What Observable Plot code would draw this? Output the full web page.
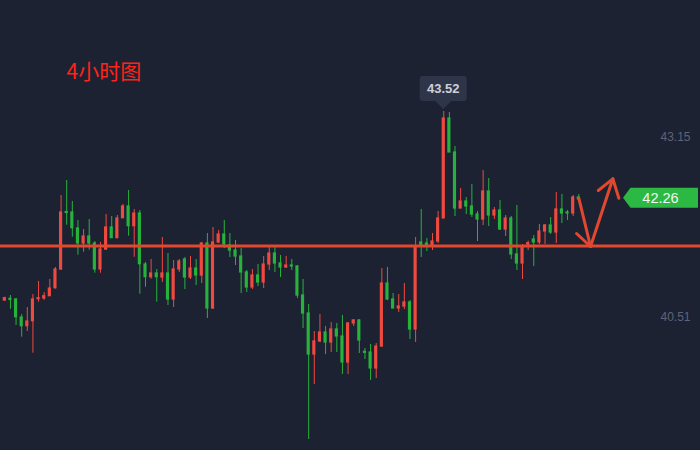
<!DOCTYPE html>
<html><head><meta charset="utf-8">
<script src="https://cdn.jsdelivr.net/npm/d3@7"></script>
<script src="https://cdn.jsdelivr.net/npm/@observablehq/plot@0.6"></script>
<style>
html,body{margin:0;padding:0;background:#1d2233;}
#chart{width:700px;height:450px;overflow:hidden;}
</style>
</head><body><div id="chart"></div>
<script>
// ---- data (prices) ----
const open = [40.759,40.784,40.774,40.510,40.382,40.455,40.778,40.788,40.822,40.939,
41.214,42.057,42.050,41.815,41.595,41.698,41.595,41.214,41.507,41.830,
41.673,41.966,42.138,41.849,42.035,41.287,41.101,41.155,41.096,41.155,
40.774,41.214,41.360,41.096,41.228,41.126,41.595,40.642,41.610,41.727,
41.566,41.492,41.404,41.170,40.950,41.126,41.023,41.287,41.448,41.302,
41.243,41.272,41.258,40.832,40.568,39.967,40.158,40.290,40.143,40.334,
40.231,39.850,40.422,40.466,40.006,39.996,39.762,40.084,41.008,40.774,
40.642,40.671,40.730,40.334,41.610,41.595,41.566,41.624,41.962,43.428,
42.930,42.108,42.211,42.138,42.020,41.947,42.358,42.006,42.079,41.800,
41.962,41.434,41.302,41.580,41.654,41.610,41.771,41.859,41.756,42.094,
42.050,42.035,42.270];
const close = [40.793,40.766,40.514,40.382,40.451,40.774,40.793,40.822,40.935,41.214,
42.050,42.042,41.819,41.595,41.698,41.595,41.214,41.507,41.830,41.673,
41.962,42.138,41.849,42.035,41.291,41.101,41.155,41.101,41.155,40.774,
41.214,41.331,41.096,41.228,41.126,41.595,40.642,41.610,41.727,41.580,
41.492,41.404,41.170,40.950,41.126,41.023,41.287,41.448,41.302,41.243,
41.272,41.258,40.832,40.568,39.967,40.158,40.290,40.143,40.334,40.231,
39.850,40.422,40.466,40.172,39.992,39.762,40.084,41.008,40.774,40.642,
40.671,40.730,40.334,41.536,41.551,41.551,41.624,41.962,43.428,42.930,
42.108,42.211,42.138,42.020,41.947,42.358,42.006,42.079,41.800,41.962,
41.434,41.302,41.536,41.599,41.610,41.771,41.859,41.756,42.094,42.035,
42.035,42.270,42.241];
const high = [40.807,40.832,40.788,40.554,40.656,40.847,41.038,40.876,41.067,41.243,
42.299,42.519,42.211,41.932,41.800,41.947,41.624,41.610,42.020,41.991,
42.006,42.167,42.372,42.094,42.079,41.316,41.360,41.214,41.683,41.448,
41.346,41.360,41.390,41.404,41.360,41.610,41.742,41.830,41.786,41.932,
41.742,41.639,41.522,41.199,41.214,41.287,41.404,41.551,41.551,41.419,
41.404,41.360,41.272,41.067,40.700,40.304,40.554,40.378,40.436,40.422,
40.539,40.436,40.480,40.480,40.055,40.114,40.128,41.228,41.243,40.862,
40.847,41.008,40.759,41.683,42.094,41.668,41.742,42.064,43.531,43.516,
43.018,42.402,42.270,42.460,42.064,42.666,42.548,42.123,42.226,42.006,
41.991,42.152,41.580,41.629,41.712,41.874,41.874,41.976,42.343,42.314,
42.079,42.299,42.314];
const low = [40.744,40.631,40.392,40.221,40.304,39.986,40.734,40.763,40.818,40.925,
41.199,41.863,41.687,41.423,41.467,41.497,41.159,41.159,41.492,41.673,
41.673,41.966,41.702,41.394,40.851,40.954,41.071,40.734,41.023,40.686,
40.656,41.170,40.920,41.067,40.979,41.008,40.495,40.627,41.595,41.522,
41.390,41.272,40.862,40.876,40.920,40.964,40.935,41.199,41.170,41.096,
41.228,41.199,40.788,40.348,38.720,39.527,40.143,39.967,39.996,39.996,
39.674,39.674,40.378,39.982,39.894,39.586,39.615,40.070,40.759,40.642,
40.583,40.627,40.187,40.143,41.390,41.478,41.492,41.595,41.962,42.930,
41.991,42.108,42.020,41.976,41.624,41.859,41.844,41.947,41.786,41.698,
41.360,41.199,41.067,41.492,41.258,41.580,41.580,41.727,41.595,41.888,
41.932,41.991,42.196];

const yTickValues = [43.15, 40.51];
const yTickLabels = ["43.15", "40.51"];
const supportLevel = [41.558];
const peakIndex = [78];
const peakLabel = ["43.52"];
const lastPrice = [42.26];
const lastLabel = ["42.26"];
const titleText = ["4小时图"];
// hand-drawn arrows: segment id, bar index, price
const arrowSeg = ["a","a","b","b","c","c","d","d","d"];
const arrowX   = [102.0,104.09, 101.6,104.09, 104.09,108.05, 105.46,108.05,109.12];
const arrowY   = [42.259,41.551, 41.742,41.551, 41.551,42.544, 42.372,42.544,42.259];

// ---- tables ----
const bars = open.map((o, i) => ({i, open: o, close: close[i], high: high[i], low: low[i], up: close[i] > o}));
const arrows = arrowSeg.map((s, i) => ({seg: s, x: arrowX[i], y: arrowY[i]}));

const RED = "#ef4a3f", GREEN = "#27b33b", LINE = "#e2482d";
const NUMFONT = "'Liberation Sans', Arial, sans-serif";

function peakTip(index, scales, values, dimensions) {
  const g = d3.create("svg:g");
  const i = peakIndex[0];
  const cx = scales.x(i), cy = scales.y(high[i]);
  const bottom = cy - 10, top = cy - 35;
  g.append("rect").attr("x", cx - 23.5).attr("y", top).attr("width", 47).attr("height", bottom - top)
    .attr("rx", 3).attr("fill", "#2e3548");
  g.append("path").attr("d", `M${cx-8.5},${bottom-0.5}L${cx+8.5},${bottom-0.5}L${cx},${cy-2}Z`).attr("fill", "#2e3548");
  g.append("text").attr("x", cx).attr("y", (top + bottom) / 2).attr("text-anchor", "middle")
    .attr("dominant-baseline", "central").attr("fill", "#cdd1da").attr("font-size", 13)
    .attr("font-weight", 700).attr("font-family", NUMFONT).text(peakLabel[0]);
  return g.node();
}

function priceTag(index, scales, values, dimensions) {
  const g = d3.create("svg:g");
  const cy = scales.y(lastPrice[0]);
  const W = dimensions.width;
  const r = W - 2, l = W - 69.5, tip = W - 77;
  g.append("path").attr("d", `M${tip},${cy}L${l},${cy-10}L${r},${cy-10}L${r},${cy+10}L${l},${cy+10}Z`).attr("fill", "#2bb944");
  g.append("text").attr("x", W - 39.5).attr("y", cy).attr("text-anchor", "middle")
    .attr("dominant-baseline", "central").attr("fill", "#f4f6f4").attr("font-size", 14.5)
    .attr("font-family", NUMFONT).text(lastLabel[0]);
  return g.node();
}

const chart = Plot.plot({
  width: 700,
  height: 450,
  margin: 0,
  style: {background: "#1d2233", overflow: "hidden"},
  x: {type: "linear", domain: [0, 102], range: [4.3, 578.3], axis: null},
  y: {type: "linear", domain: [38.559, 45.159], range: [450, 0], axis: null},
  marks: [
    Plot.ruleX(bars, {x: "i", y1: "low", y2: "high", stroke: d => d.up ? RED : GREEN, strokeWidth: 1}),
    Plot.rect(bars, {x1: d => d.i - 0.28, x2: d => d.i + 0.28, y1: "open", y2: "close",
      fill: d => d.up ? RED : GREEN, insetTop: -0.6, insetBottom: -0.6}),
    Plot.ruleY(supportLevel, {stroke: LINE, strokeWidth: 3}),
    Plot.line(arrows, {x: "x", y: "y", z: "seg", stroke: LINE, strokeWidth: 3,
      strokeLinecap: "round", strokeLinejoin: "round", curve: "linear"}),
    Plot.text(yTickValues, {y: d => d, text: (d, i) => yTickLabels[i], frameAnchor: "right", dx: -10,
      textAnchor: "end", fill: "#5e6477", fontSize: 12, fontFamily: NUMFONT}),
    Plot.text(titleText, {frameAnchor: "top-left", dx: 66, dy: 72, textAnchor: "start", lineAnchor: "middle",
      fill: "#ff2418", fontSize: 21, fontFamily: "'Noto Sans CJK SC', sans-serif", text: d => d}),
    peakTip,
    priceTag
  ]
});
document.getElementById("chart").appendChild(chart);
</script>
</body></html>
